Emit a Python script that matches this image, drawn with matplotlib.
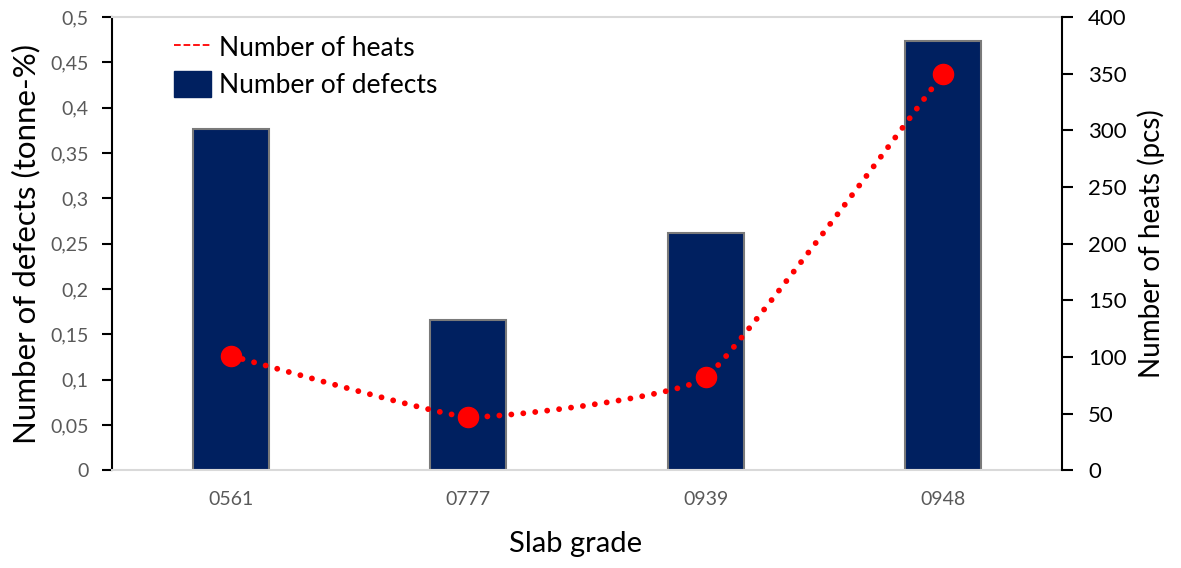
import numpy as np
import matplotlib.pyplot as plt
from matplotlib.lines import Line2D
from matplotlib.patches import Patch
from matplotlib.ticker import FuncFormatter

grades = ["0561", "0777", "0939", "0948"]
defects = [0.376, 0.166, 0.262, 0.474]
heats = [101, 47, 82, 350]

plt.rcParams['font.family'] = ['Lato', 'DejaVu Sans']


def smooth(xs, ys, k=0.06, n=60):
    # smoothed line like Excel: short bezier handles along neighbour direction
    p = np.column_stack([xs, ys]).astype(float)
    p = np.vstack([p[0], p, p[-1]])
    out = []
    t = np.linspace(0, 1, n)[:, None]
    for i in range(1, len(p) - 2):
        p0, p1, p2, p3 = p[i - 1], p[i], p[i + 1], p[i + 2]
        c1 = p1 + (p2 - p0) * k
        c2 = p2 - (p3 - p1) * k
        seg = (1 - t) ** 3 * p1 + 3 * (1 - t) ** 2 * t * c1 + 3 * (1 - t) * t ** 2 * c2 + t ** 3 * p2
        out.append(seg if i == 1 else seg[1:])
    seg = np.vstack(out)
    return seg[:, 0], seg[:, 1]


fig, ax = plt.subplots(figsize=(11.81, 5.68), dpi=100)
fig.subplots_adjust(left=0.095, right=0.899, top=0.97, bottom=0.172)
x = np.arange(len(grades))
ax.bar(x, defects, width=0.32, color="#002060", edgecolor="#7a7a7a", linewidth=1.5, zorder=2)
ax.set_ylim(0, 0.5)
ax.set_xlim(-0.5, len(grades) - 0.5)
ax.set_yticks(np.arange(0, 0.501, 0.05))
ax.yaxis.set_major_formatter(FuncFormatter(lambda v, p: ("%g" % round(v, 2)).replace(".", ",")))
ax.set_xticks(x)
ax.set_xticklabels(grades)
ax.tick_params(axis='x', length=0, pad=15, labelsize=14, labelcolor="#595959")
ax.tick_params(axis='y', length=7, width=1.5, labelsize=14, labelcolor="#595959", pad=10)
ax.set_xlabel("Slab grade", fontsize=21)
ax.xaxis.set_label_coords(0.488, -0.133)
ax.set_ylabel("Number of defects (tonne-%)", fontsize=22.5)
ax.yaxis.set_label_coords(-0.076, 0.5)
for s in ["top", "bottom"]:
    ax.spines[s].set_color("#d9d9d9")
    ax.spines[s].set_linewidth(1.5)
ax.spines["left"].set_linewidth(1.5)
ax.spines["right"].set_visible(False)

ax2 = ax.twinx()
ax2.set_ylim(0, 400)
ax2.set_yticks(np.arange(0, 401, 50))
sx, sy = smooth(x, heats)
ax2.plot(sx, sy, color="red", linewidth=4.2, linestyle=(0, (0.01, 2.05)), dash_capstyle="round", zorder=3)
ax2.plot(x, heats, "o", color="red", markersize=14.5, zorder=4)
ax2.tick_params(axis='y', length=8, width=1.5, labelsize=16, labelcolor="black", pad=11)
ax2.set_ylabel("Number of heats (pcs)", fontsize=20, labelpad=8)
for s in ["top", "bottom", "left"]:
    ax2.spines[s].set_visible(False)
ax2.spines["right"].set_linewidth(1.5)

handles = [Line2D([0], [0], color="red", linestyle="--", linewidth=1.3),
           Patch(facecolor="#002060", edgecolor="#002060")]
ax2.legend(handles, ["Number of heats", "Number of defects"], loc="upper left",
           bbox_to_anchor=(0.04, 1.015), frameon=False, fontsize=19,
           handlelength=1.4, handleheight=1.1, handletextpad=0.3, labelspacing=0.4)

fig.savefig("out.png", dpi=100)
